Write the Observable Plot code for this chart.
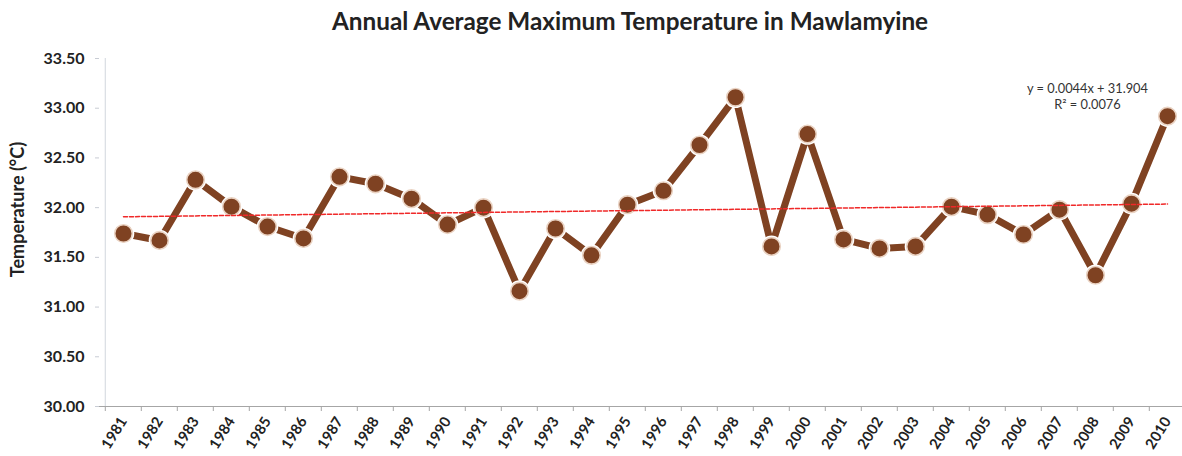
<!DOCTYPE html>
<html><head><meta charset="utf-8">
<script src="https://cdn.jsdelivr.net/npm/d3@7"></script>
<script src="https://cdn.jsdelivr.net/npm/@observablehq/plot@0.6"></script>
<style>
body{margin:0;background:#fff;font-family:Lato,"Open Sans",sans-serif;}
#title{height:40px;line-height:42px;padding-left:78px;text-align:center;font-weight:bold;font-size:24.3px;color:#222;}
</style></head><body>
<div id="title">Annual Average Maximum Temperature in Mawlamyine</div>
<div id="chart"></div>
<script>
const years = ["1981","1982","1983","1984","1985","1986","1987","1988","1989","1990","1991","1992","1993","1994","1995","1996","1997","1998","1999","2000","2001","2002","2003","2004","2005","2006","2007","2008","2009","2010"];
const temps = [31.74,31.67,32.28,32.01,31.81,31.69,32.31,32.24,32.09,31.83,32.00,31.16,31.79,31.52,32.03,32.17,32.63,33.11,31.61,32.74,31.68,31.59,31.61,32.01,31.93,31.73,31.98,31.32,32.04,32.92];
const yTicks = [30.0,30.5,31.0,31.5,32.0,32.5,33.0,33.5];
const trendYears = ["1981","2010"];
const trendValues = [31.908,32.036];
const equation = ["y = 0.0044x + 31.904","R² = 0.0076"];
const yLabel = "Temperature (°C)";

const W = 1182, ML = 99, MR = -9;
const half = (W - ML - MR) / years.length / 2;
const brown = "#7f4222";

const chart = Plot.plot({
  width: W, height: 416,
  marginLeft: ML, marginRight: MR, marginTop: 18, marginBottom: 50,
  style: {fontFamily: "Lato, 'Open Sans', sans-serif", color: "#222", background: "#fff"},
  x: {type: "point", domain: years, padding: 0.5},
  y: {domain: [30, 33.5]},
  marks: [
    Plot.ruleY([30], {stroke: "#a6a6a6", strokeWidth: 1.2}),
    Plot.ruleX([years[0]], {y1: 30, y2: 33.5, dx: -half, stroke: "#d9dde3", strokeWidth: 1.2}),
    Plot.ruleX(years, {x: d => d, y1: 30, y2: 30, dx: -half, insetBottom: -5, stroke: "#a6a6a6"}),
    Plot.axisY({ticks: yTicks, tickFormat: d3.format(".2f"), tickSize: 4, tickPadding: 11, fontSize: 16, fontWeight: "bold", stroke: "#c8ccd4", label: null}),
    Plot.axisX({tickSize: 0, tickRotate: -58, tickPadding: 12, fontSize: 14.8, fontWeight: "bold", label: null}),
    Plot.line(temps, {x: (d, i) => years[i], y: d => d, stroke: brown, strokeWidth: 7}),
    Plot.dot(temps, {x: (d, i) => years[i], y: d => d, r: 10.8, fill: "#fff"}),
    Plot.dot(temps, {x: (d, i) => years[i], y: d => d, r: 8.8, fill: brown, stroke: "#ead3c3", strokeWidth: 1.6}),
    Plot.line(trendValues, {x: (d, i) => trendYears[i], y: d => d, stroke: "#f02828", strokeWidth: 1.5, strokeDasharray: "4,2"}),
    Plot.text([equation.join("\n")], {frameAnchor: "top-right", dx: -104, dy: 37, textAnchor: "middle", lineAnchor: "middle", lineHeight: 1.3, fontSize: 12.8, fill: "#333"}),
    Plot.text([yLabel], {frameAnchor: "left", dx: -81, dy: -23, rotate: -90, textAnchor: "middle", fontSize: 18, fontWeight: "bold", fill: "#222"})
  ]
});
document.getElementById("chart").appendChild(chart);
</script>
</body></html>
